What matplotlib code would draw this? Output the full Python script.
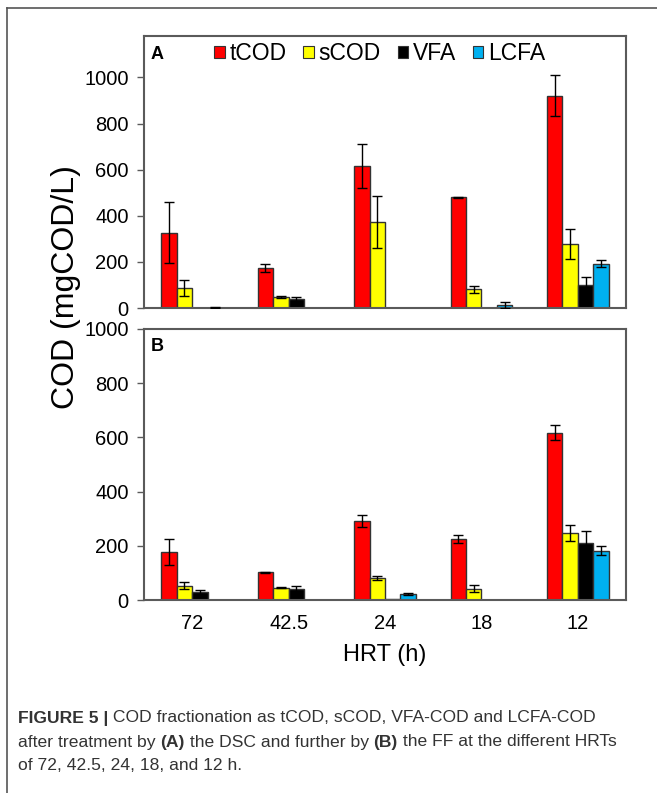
import matplotlib
matplotlib.use('Agg')
import matplotlib.pyplot as plt
import numpy as np
from matplotlib.patches import Patch
from matplotlib.lines import Line2D

plt.rcParams['font.family'] = ['Liberation Sans', 'DejaVu Sans']

# data
hrt = ['72', '42.5', '24', '18', '12']
series = ['tCOD', 'sCOD', 'VFA', 'LCFA']
colors = ['#ff0000', '#ffff00', '#000000', '#00b0f0']

# panel A (DSC)
a_tcod = [326, 175, 616, 480, 920]
a_tcod_err = [132, 18, 96, 3, 89]
a_scod = [87, 48, 372, 81, 278]
a_scod_err = [33, 3, 113, 14, 65]
a_vfa = [0, 39, 0, 0, 99]
a_vfa_err = [0, 9, 0, 0, 37]
a_lcfa = [2, 0, 0, 12, 193]
a_lcfa_err = [1, 0, 0, 14, 16]

# panel B (FF)
b_tcod = [177, 102, 292, 225, 618]
b_tcod_err = [49, 3, 22, 16, 29]
b_scod = [53, 45, 82, 41, 248]
b_scod_err = [14, 2, 8, 13, 29]
b_vfa = [29, 42, 5, 0, 209]
b_vfa_err = [8, 8, 0, 0, 44]
b_lcfa = [0, 0, 22, 0, 182]
b_lcfa_err = [0, 0, 4, 0, 16]

fig = plt.figure(figsize=(6.57, 7.93), dpi=100)
W, H = 657.0, 793.0

axA = fig.add_axes([144/W, 1-308/H, 482/W, 272/H])
axB = fig.add_axes([144/W, 1-600/H, 482/W, 271/H])

x = np.arange(len(hrt))
bw = 0.16
spine_c = '#5a5a5a'

def draw(ax, vals, errs, ymax):
    for i in range(4):
        pos = x + (i - 1.5) * bw
        v = np.array(vals[i], dtype=float)
        e = np.array(errs[i], dtype=float)
        ax.bar(pos, v, bw, color=colors[i], edgecolor='#333333', linewidth=1.0, zorder=2)
        # skip empty bars, the reference draws no error bar there
        m = (v > 0) & (e > 0)
        ax.errorbar(pos[m], v[m], yerr=e[m], fmt='none', ecolor='black',
                    elinewidth=1.0, capsize=3.5, capthick=1.0, zorder=3)
    ax.set_xlim(-0.5, 4.5)
    ax.set_ylim(0, ymax)
    ax.set_yticks([0, 200, 400, 600, 800, 1000])
    ax.tick_params(axis='y', direction='out', length=5, width=1, color=spine_c,
                   labelsize=14.5, pad=6)
    ax.tick_params(axis='x', length=0)
    for s in ax.spines.values():
        s.set_color(spine_c)
        s.set_linewidth(1.5)

draw(axA, [a_tcod, a_scod, a_vfa, a_lcfa], [a_tcod_err, a_scod_err, a_vfa_err, a_lcfa_err], 1180)
draw(axB, [b_tcod, b_scod, b_vfa, b_lcfa], [b_tcod_err, b_scod_err, b_vfa_err, b_lcfa_err], 1000)

axA.set_xticks(x)
axA.set_xticklabels([])
axB.set_xticks(x)
axB.set_xticklabels(hrt, fontsize=14.5)
axB.tick_params(axis='x', pad=10)
axB.set_xlabel('HRT (h)', fontsize=17, labelpad=8)

axA.text(0.014, 0.965, 'A', transform=axA.transAxes, fontsize=13, fontweight='bold', va='top')
axB.text(0.014, 0.965, 'B', transform=axB.transAxes, fontsize=13, fontweight='bold', va='top')

handles = [Patch(facecolor=c, edgecolor='#333333', linewidth=0.8) for c in colors]
axA.legend(handles, series, loc='center', bbox_to_anchor=(0.489, 0.935), ncol=4,
           frameon=False, fontsize=16.5, handlelength=0.45, handleheight=0.45,
           handletextpad=0.2, columnspacing=0.75, borderaxespad=0, borderpad=0)

fig.text(66/W, 1-287/H, 'COD (mgCOD/L)', rotation=90, fontsize=23, ha='center', va='center')

# outer frame
fig.add_artist(Line2D([7/W, 1], [1-8/H, 1-8/H], color='#555555', lw=1.2))
fig.add_artist(Line2D([7/W, 7/W], [0, 1-8/H], color='#555555', lw=1.2))

# caption with bold parts
cap_font = ['Liberation Sans', 'DejaVu Sans']
cap_size = 12.6
lines = [
    [('FIGURE 5 |', 'bold'), (' COD fractionation as tCOD, sCOD, VFA-COD and LCFA-COD', 'normal')],
    [('after treatment by ', 'normal'), ('(A)', 'bold'), (' the DSC and further by ', 'normal'),
     ('(B)', 'bold'), (' the FF at the different HRTs', 'normal')],
    [('of 72, 42.5, 24, 18, and 12 h.', 'normal')],
]
fig.canvas.draw()
r = fig.canvas.get_renderer()
ys = [718, 742, 766]
for ln, yy in zip(lines, ys):
    xp = 18.0
    for txt, wt in ln:
        t = fig.text(xp/W, 1-yy/H, txt, fontsize=cap_size, fontweight=wt, family=cap_font,
                     color='#333333', va='center', ha='left')
        bb = t.get_window_extent(renderer=r)
        xp += bb.width

fig.savefig('out.png', dpi=100)
